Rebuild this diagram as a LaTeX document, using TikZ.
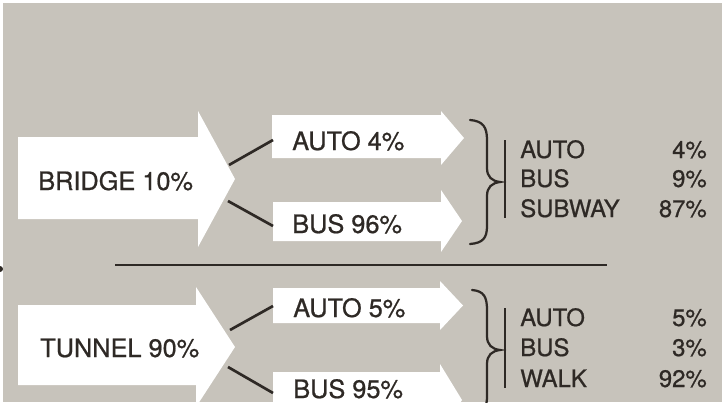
\documentclass[tikz,border=0pt]{standalone}
\usepackage{fontspec}
\usepackage{xcolor}
\newfontfamily\heros[FakeBold=0.7]{TeX Gyre Heros}
\definecolor{paper}{RGB}{199,195,187}
\definecolor{ink}{RGB}{46,41,37}

% white block arrow: name, tail x, neck x, tip x, body top, body bottom, head top, head bottom
\newcommand{\flowarrow}[8]{%
  \fill[flow] (#2,#5) -- (#3,#5) -- (#3,#7) -- (#4,{(#7+#8)/2})
    -- (#3,#8) -- (#3,#6) -- (#2,#6) -- cycle;
  \coordinate (#1-tip) at (#4,{(#7+#8)/2});
}

\begin{document}
\begin{tikzpicture}[x=0.025cm,y=-0.025cm,
    flow/.style={fill=white},
    tag/.style={font=\heros\fontsize{18}{18}\selectfont,text=ink,inner sep=0pt,anchor=base west},
    mode/.style={font=\heros\fontsize{17}{17}\selectfont,text=ink,inner sep=0pt,anchor=base west},
    share/.style={mode,anchor=base east},
    link/.style={draw=ink,line width=1.9pt},
    curly/.style={draw=ink,line width=1.6pt,line cap=round},
    bar/.style={draw=ink,line width=2pt}]
    \useasboundingbox (0,0) rectangle (722,402);
    \clip (0,0) rectangle (722,402);
    \fill[white] (0,0) rectangle (722,402);
    \fill[paper] (3,3) rectangle (722,402);
    \fill[ink] (0,269) circle (3);

    % bridge
    \flowarrow{bridge}{18}{198}{235}{137}{219}{111}{247}
    \flowarrow{auto1}{272}{441}{464}{115}{158}{111}{165}
    \flowarrow{bus1}{273}{441}{462}{202}{241}{190}{252}
    \node[tag] (bridgetxt) at (38,190)  {BRIDGE 10\%};
    \node[tag] (auto1txt)  at (292,150) {AUTO 4\%};
    \node[tag] (bus1txt)   at (292,233) {BUS 96\%};
    \coordinate (bridge-up)   at (229,165);
    \coordinate (bridge-down) at (228,201);
    \coordinate (auto1-in)    at (273,140);
    \coordinate (bus1-in)     at (273,226);
    \draw[link] (bridge-up) -- (auto1-in);
    \draw[link] (bridge-down) -- (bus1-in);

    \draw[curly] (470,120) .. controls (483,121) and (487,127) .. (487,140)
        -- (487,168) .. controls (487,177) and (492,181) .. (500,182)
        .. controls (492,183) and (487,187) .. (487,196)
        -- (487,226) .. controls (487,238) and (483,243) .. (470,244);
    \draw[bar] (505,140) -- (505,218);
    \node[mode]  (m1a) at (520,158) {AUTO};
    \node[mode]  (m1b) at (520,187) {BUS};
    \node[mode]  (m1c) at (520,217) {SUBWAY};
    \node[share] (p1a) at (707,158) {4\%};
    \node[share] (p1b) at (707,187) {9\%};
    \node[share] (p1c) at (707,217) {87\%};

    \coordinate (rule-l) at (115,265);
    \coordinate (rule-r) at (607,265);
    \draw[ink,line width=1.4pt] (rule-l) -- (rule-r);

    % tunnel
    \flowarrow{tunnel}{18}{196}{235}{305}{385}{287}{407}
    \flowarrow{auto2}{273}{440}{463}{288}{323}{281}{330}
    \flowarrow{bus2}{273}{440}{462}{372}{414}{364}{436}
    \node[tag] (tunneltxt) at (40,357)  {TUNNEL 90\%};
    \node[tag] (auto2txt)  at (293,317) {AUTO 5\%};
    \node[tag] (bus2txt)   at (293,398) {BUS 95\%};
    \coordinate (tunnel-up)   at (230,330);
    \coordinate (tunnel-down) at (228,367);
    \coordinate (auto2-in)    at (273,306);
    \coordinate (bus2-in)     at (273,393);
    \draw[link] (tunnel-up) -- (auto2-in);
    \draw[link] (tunnel-down) -- (bus2-in);

    \draw[curly] (472,290) .. controls (484,291) and (487,297) .. (487,310)
        -- (487,336) .. controls (487,345) and (492,349) .. (500,350)
        .. controls (492,351) and (487,355) .. (487,364)
        -- (487,396) .. controls (487,408) and (484,413) .. (472,414);
    \draw[bar] (505,308) -- (505,388);
    \node[mode]  (m2a) at (520,326) {AUTO};
    \node[mode]  (m2b) at (520,356) {BUS};
    \node[mode]  (m2c) at (520,387) {WALK};
    \node[share] (p2a) at (707,326) {5\%};
    \node[share] (p2b) at (707,356) {3\%};
    \node[share] (p2c) at (707,387) {92\%};
\end{tikzpicture}
\end{document}
